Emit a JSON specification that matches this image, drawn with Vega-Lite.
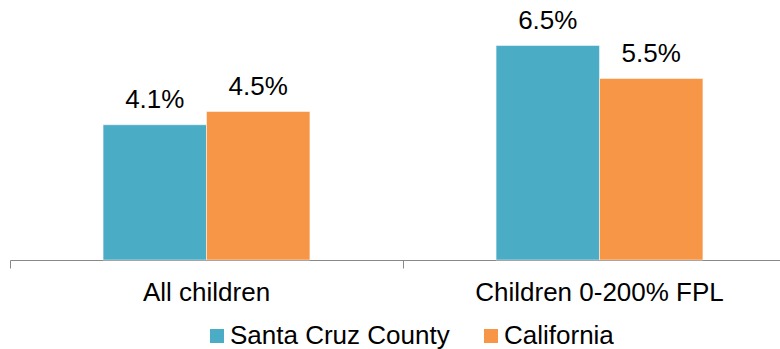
{
  "$schema": "https://vega.github.io/schema/vega-lite/v6.json",
  "autosize": "none",
  "width": 786,
  "height": 260,
  "padding": {"left": 10, "top": 0, "right": 0, "bottom": 89},
  "background": "white",
  "config": {"view": {"stroke": null}, "font": "Liberation Sans"},
  "data": {"values": [
    {"group": "All children", "series": "Santa Cruz County", "value": 0.041},
    {"group": "All children", "series": "California", "value": 0.045},
    {"group": "Children 0-200% FPL", "series": "Santa Cruz County", "value": 0.065},
    {"group": "Children 0-200% FPL", "series": "California", "value": 0.055}
  ]},
  "encoding": {
    "x": {"field": "group", "type": "nominal", "sort": null,
      "scale": {"paddingInner": 0, "paddingOuter": 0},
      "axis": {"title": null, "labelAngle": 0, "labelFontSize": 26, "labelLimit": 0, "labelColor": "#000", "domainColor": "#898989", "tickColor": "#898989", "tickSize": 8, "labelPadding": 11, "bandPosition": 0, "ticks": true, "grid": false}},
    "xOffset": {"field": "series", "type": "nominal", "sort": ["Santa Cruz County", "California"],
      "scale": {"paddingInner": 0, "paddingOuter": 0.9}},
    "y": {"field": "value", "type": "quantitative", "scale": {"domain": [0, 0.0788], "nice": false}, "axis": null}
  },
  "layer": [
    {"mark": {"type": "bar", "stroke": "white", "strokeWidth": 0.5},
     "encoding": {"color": {"field": "series", "type": "nominal", "sort": ["Santa Cruz County", "California"],
       "scale": {"domain": ["Santa Cruz County", "California"], "range": ["#4BACC6", "#F79646"]},
       "legend": {"title": null, "orient": "none", "direction": "horizontal", "legendX": 194, "legendY": 323, "symbolType": "square", "symbolSize": 196, "symbolStrokeWidth": 0, "labelFontSize": 26, "labelLimit": 0, "labelColor": "#000", "labelOffset": 0, "columnPadding": 28}}}},
    {"mark": {"type": "text", "fontSize": 26, "baseline": "alphabetic", "dy": -17, "color": "#000"},
     "encoding": {"text": {"field": "value", "type": "quantitative", "format": ".1%"}}}
  ]
}
